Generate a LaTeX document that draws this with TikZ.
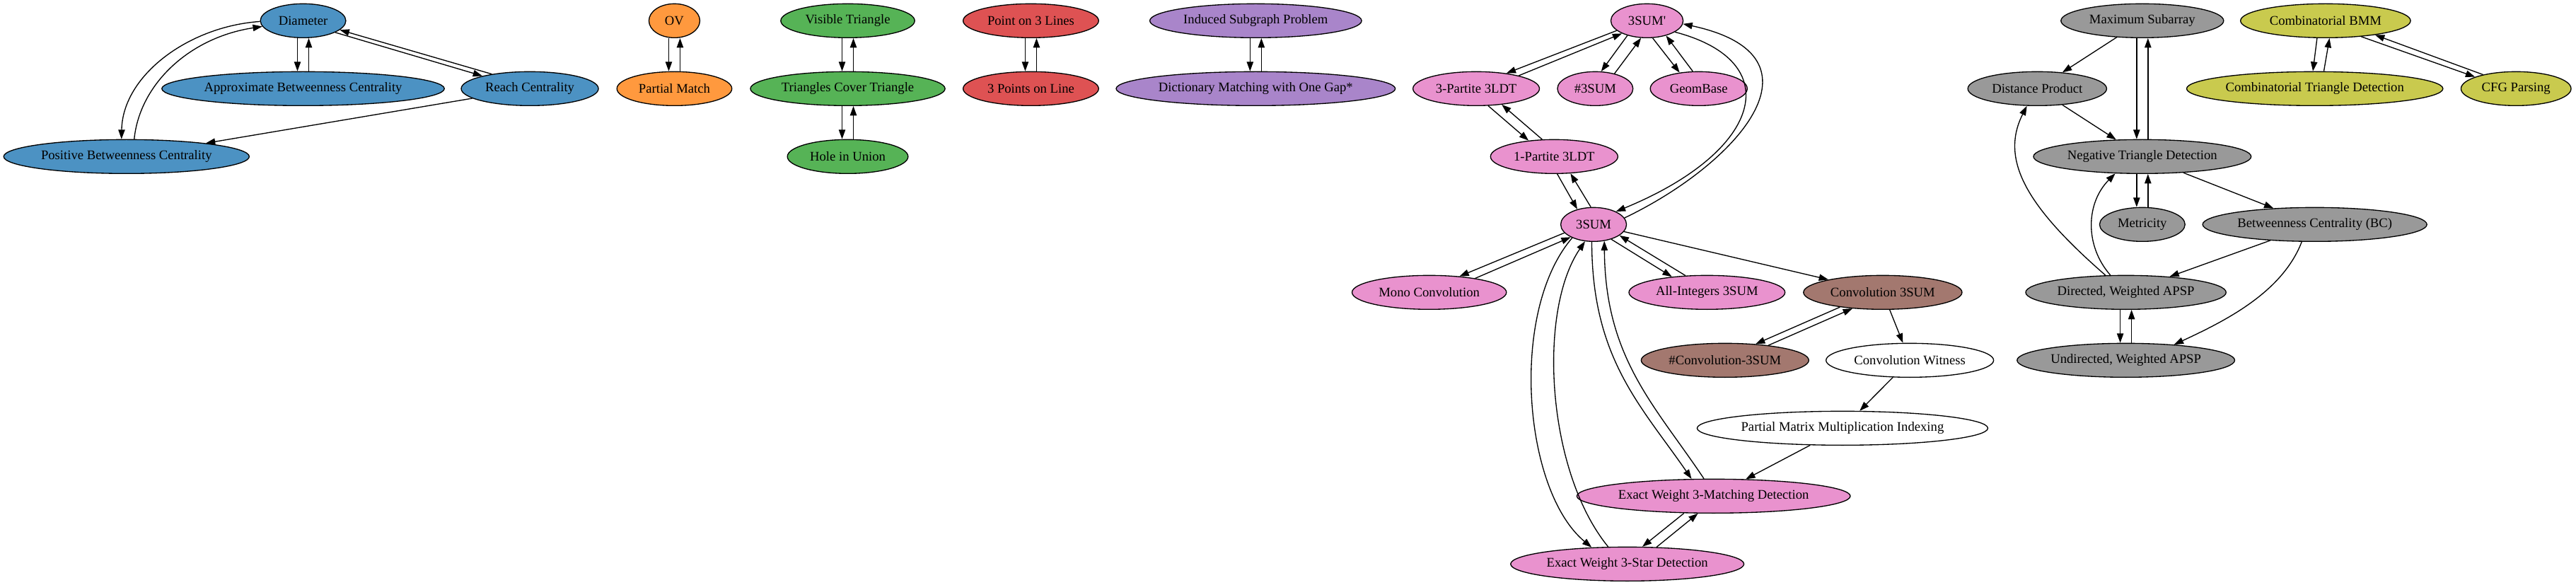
\documentclass[tikz,border=0pt]{standalone}
\usepackage{fontspec}
\newfontfamily\gvf{Liberation Serif}
\usetikzlibrary{shapes.geometric,arrows.meta}
\definecolor{cblue}{HTML}{4C92C3}
\definecolor{corange}{HTML}{FF993E}
\definecolor{cgreen}{HTML}{56B356}
\definecolor{cred}{HTML}{DE5253}
\definecolor{cpurple}{HTML}{A985CA}
\definecolor{cpink}{HTML}{E992CE}
\definecolor{cbrown}{HTML}{A3786F}
\definecolor{cgray}{HTML}{999999}
\definecolor{colive}{HTML}{C9CA4E}
\newcommand\vpair[2]{%
  \draw[e] ([xshift=-6pt]#1.south) -- ([xshift=-6pt]#2.north);
  \draw[e] ([xshift=6pt]#2.north) -- ([xshift=6pt]#1.south);}
\begin{document}
\begin{tikzpicture}[x=1pt,y=-1pt,
  gvn/.style={ellipse,draw=black,line width=1pt,inner sep=0pt,minimum height=36pt,
              font=\gvf\fontsize{14}{16.8}\selectfont},
  e/.style={draw=black,line width=1pt,-{Triangle[length=10pt,width=7pt]}}]
\useasboundingbox (0,0) rectangle (2731.5,620.25);
% ---------------- nodes
\node[gvn,fill=cblue,minimum width=90.6pt]  (dia) at (321.4,22) {Diameter};
\node[gvn,fill=cblue,minimum width=299.6pt] (abc) at (321.4,94) {Approximate Betweenness Centrality};
\node[gvn,fill=cblue,minimum width=145.5pt] (rc)  at (561.8,94) {Reach Centrality};
\node[gvn,fill=cblue,minimum width=260.4pt] (pbc) at (134.1,166) {Positive Betweenness Centrality};
\node[gvn,fill=corange,minimum width=54pt]   (ov) at (715.1,22) {OV};
\node[gvn,fill=corange,minimum width=121.9pt] (pm) at (715.1,94) {Partial Match};
\node[gvn,fill=cgreen,minimum width=142pt]   (vt)  at (898.9,22) {Visible Triangle};
\node[gvn,fill=cgreen,minimum width=206.4pt] (tct) at (898.9,94) {Triangles Cover Triangle};
\node[gvn,fill=cgreen,minimum width=128pt]   (hu)  at (898.9,166) {Hole in Union};
\node[gvn,fill=cred,minimum width=143.7pt] (ptl) at (1093.1,22) {Point on 3 Lines};
\node[gvn,fill=cred,minimum width=143.7pt] (tpl) at (1093.1,94) {3 Points on Line};
\node[gvn,fill=cpurple,minimum width=224.6pt] (isp) at (1331.5,22) {Induced Subgraph Problem};
\node[gvn,fill=cpurple,minimum width=296pt]   (dm)  at (1331.5,94) {Dictionary Matching with One Gap*};
\node[gvn,fill=cpink,minimum width=76.6pt]  (sp)  at (1746.4,22) {3SUM'};
\node[gvn,fill=cpink,minimum width=134.1pt] (tp)  at (1565.3,94) {3-Partite 3LDT};
\node[gvn,fill=cpink,minimum width=80.1pt]  (nts) at (1691.5,94) {\#3SUM};
\node[gvn,fill=cpink,minimum width=102.8pt] (gb)  at (1801.3,94) {GeomBase};
\node[gvn,fill=cpink,minimum width=135pt]   (op)  at (1648,166) {1-Partite 3LDT};
\node[gvn,fill=cpink,minimum width=69.7pt]  (ts)  at (1689.8,238) {3SUM};
\node[gvn,fill=cpink,minimum width=163.7pt] (mc)  at (1515.5,310) {Mono Convolution};
\node[gvn,fill=cpink,minimum width=165.5pt] (ai)  at (1810,310) {All-Integers 3SUM};
\node[gvn,fill=cbrown,minimum width=168.1pt] (cts) at (1996.4,310) {Convolution 3SUM};
\node[gvn,fill=cbrown,minimum width=177.7pt] (nc)  at (1829.1,382) {\#Convolution-3SUM};
\node[gvn,fill=white,minimum width=177.7pt]  (cw)  at (2025.1,382) {Convolution Witness};
\node[gvn,fill=white,minimum width=308.3pt]  (pmmi) at (1953.7,454) {Partial Matrix Multiplication Indexing};
\node[gvn,fill=cpink,minimum width=290pt]   (ewm) at (1817,526) {Exact Weight 3-Matching Detection};
\node[gvn,fill=cpink,minimum width=247.4pt] (ews) at (1725.5,598) {Exact Weight 3-Star Detection};
\node[gvn,fill=cgray,minimum width=172.5pt] (ms)  at (2271.6,22) {Maximum Subarray};
\node[gvn,fill=colive,minimum width=180.3pt] (bmm) at (2465.9,22) {Combinatorial BMM};
\node[gvn,fill=cgray,minimum width=147.2pt] (dp)  at (2160.2,94) {Distance Product};
\node[gvn,fill=colive,minimum width=271.8pt] (ctd) at (2454.5,94) {Combinatorial Triangle Detection};
\node[gvn,fill=colive,minimum width=116.7pt] (cfg) at (2667.9,94) {CFG Parsing};
\node[gvn,fill=cgray,minimum width=230.8pt] (ntd) at (2271.6,166) {Negative Triangle Detection};
\node[gvn,fill=cgray,minimum width=90.6pt]  (met) at (2271.6,238) {Metricity};
\node[gvn,fill=cgray,minimum width=237.8pt] (bc)  at (2454.5,238) {Betweenness Centrality (BC)};
\node[gvn,fill=cgray,minimum width=212.5pt] (dap) at (2254.2,310) {Directed, Weighted APSP};
\node[gvn,fill=cgray,minimum width=230.8pt] (uap) at (2254.2,382) {Undirected, Weighted APSP};
% ---------------- vertical pairs
\vpair{dia}{abc}
\vpair{ov}{pm}
\vpair{vt}{tct}
\vpair{tct}{hu}
\vpair{ptl}{tpl}
\vpair{isp}{dm}
\vpair{ms}{ntd}
\vpair{ntd}{met}
\vpair{dap}{uap}
\draw[e] ([xshift=-9pt]bmm.south) -- ([xshift=-2pt]ctd.north);
\draw[e] ([xshift=9.6pt]ctd.north) -- ([xshift=4.2pt]bmm.south);
% ---------------- slanted pairs
\draw[e] (dia.-20) -- (rc.165);
\draw[e] (rc.159) -- (dia.-14);
\draw[e] (sp.198) -- (tp.27);
\draw[e] (tp.17) -- (sp.207);
\draw[e] (sp.217.7) -- (nts.71.4);
\draw[e] (nts.38) -- (sp.251.7);
\draw[e] (sp.288.3) -- (gb.140.8);
\draw[e] (gb.109.4) -- (sp.322.3);
\draw[e] (tp.305.9) -- (op.148.4);
\draw[e] (op.125.9) -- (tp.328.4);
\draw[e] (op.280.4) -- (ts.137.3);
\draw[e] (ts.99.5) -- (op.314.8);
\draw[e] (ts.196) -- (mc.28);
\draw[e] (mc.17) -- (ts.209);
\draw[e] (ts.320) -- (ai.156);
\draw[e] (ai.142) -- (ts.337);
\draw[e] (cts.199) -- (nc.28);
\draw[e] (nc.19) -- (cts.208);
\draw[e] (ewm.210.8) -- (ews.49);
\draw[e] (ews.30.6) -- (ewm.228.9);
\draw[e] (bmm.336) -- (cfg.164);
\draw[e] (cfg.157) -- (bmm.344);
% ---------------- single straight edges
\draw[e] (rc) -- (pbc);
\draw[e] (ts) -- (cts);
\draw[e] (cts) -- (cw);
\draw[e] (cw) -- (pmmi);
\draw[e] (pmmi) -- (ewm);
\draw[e] (ms) -- (dp);
\draw[e] (dp) -- (ntd);
\draw[e] (ntd) -- (bc);
\draw[e] (bc) -- (dap);
% ---------------- curved edges
\draw[e] (dia.181) .. controls (200,28) and (130,80) .. (pbc.106);
\draw[e] (pbc.66) .. controls (148,90) and (200,40) .. (dia.188);
\draw[e] (ts.12) .. controls (1840,175) and (1945,60) .. (sp.355);
\draw[e] (sp.338) .. controls (1895,65) and (1870,160) .. (ts.30);
\draw[e] (ts.264.3) .. controls (1688,380) and (1740,430) .. (ewm.142.3);
\draw[e] (ewm.119.1) .. controls (1755,430) and (1702,380) .. (ts.303.3);
\draw[e] (ts.212.8) .. controls (1600,330) and (1615,520) .. (ews.155.4);
\draw[e] (ews.138.5) .. controls (1640,500) and (1630,330) .. (ts.243.2);
\draw[e] (bc.233.8) .. controls (2420,310) and (2360,340) .. (uap.18.9);
\draw[e] (dap.140.3) .. controls (2150,220) and (2120,170) .. (dp.239.2);
\draw[e] (dap.132.3) .. controls (2210,260) and (2212,215) .. (ntd.212.1);
\end{tikzpicture}
\end{document}
